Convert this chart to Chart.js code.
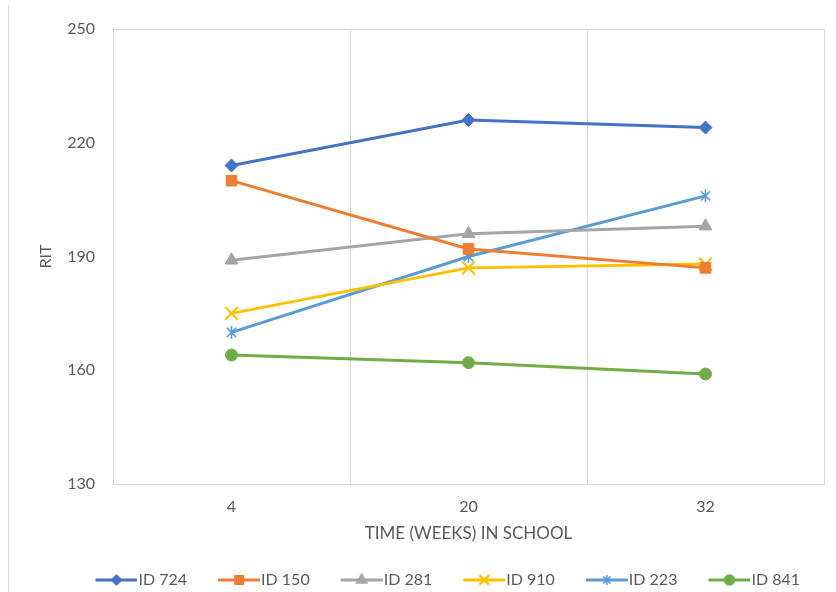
<!DOCTYPE html>
<html>
<head>
<meta charset="utf-8">
<script src="https://cdn.jsdelivr.net/npm/chart.js@4.4.0/dist/chart.umd.min.js"></script>
<style>
    html, body { margin: 0; padding: 0; background: #fff; }
    #wrap { width: 836px; height: 592px; position: relative; }
</style>
</head>
<body>
<div id="wrap"><canvas id="ritChart"></canvas></div>
<script>
// Data
const weeks = ['4', '20', '32'];
const studentIds = ['ID 724', 'ID 150', 'ID 281', 'ID 910', 'ID 223', 'ID 841'];
const rit724 = [214, 226, 224];
const rit150 = [210, 192, 187];
const rit281 = [189, 196, 198];
const rit910 = [175, 187, 188];
const rit223 = [170, 190, 206];
const rit841 = [164, 162, 159];
const ritTicks = [130, 160, 190, 220, 250];

const seriesColors = ['#4472C4', '#ED7D31', '#A5A5A5', '#FFC000', '#5B9BD5', '#70AD47'];
const textColor = '#595959';
const frameColor = '#D9D9D9';
const fontFamily = 'Lato, "Open Sans", sans-serif';

// Excel style asterisk marker (X with a vertical stroke)
function makeAsterisk(color, size) {
    const c = document.createElement('canvas');
    c.width = size;
    c.height = size;
    const g = c.getContext('2d');
    const m = size / 2;
    const r = size / 2 - 1;
    const d = r * 0.72;
    g.strokeStyle = color;
    g.lineWidth = 1.6;
    g.beginPath();
    g.moveTo(m - d, m - d); g.lineTo(m + d, m + d);
    g.moveTo(m + d, m - d); g.lineTo(m - d, m + d);
    g.moveTo(m, m - r); g.lineTo(m, m + r);
    g.stroke();
    return c;
}

// Legend icon: short line with marker; a bit wider than the legend box so the line ends next to the text
const ICON_W = 56;
const ICON_LINE = 42;
function makeLegendIcon(color, style, radius, markerLine) {
    const c = document.createElement('canvas');
    c.width = ICON_W;
    c.height = 18;
    const g = c.getContext('2d');
    g.strokeStyle = color;
    g.lineWidth = 3;
    g.beginPath();
    g.moveTo(ICON_W - ICON_LINE, 9);
    g.lineTo(ICON_W, 9);
    g.stroke();
    const mx = ICON_W - ICON_LINE / 2;
    if (typeof style === 'string') {
        g.fillStyle = color;
        g.lineWidth = markerLine;
        Chart.helpers.drawPoint(g, { pointStyle: style, radius: radius, borderWidth: markerLine, rotation: 0 }, mx, 9);
    } else {
        g.drawImage(style, mx - style.width / 2, 9 - style.height / 2);
    }
    return c;
}

const asteriskPoint = makeAsterisk(seriesColors[4], 15);
const asteriskLegend = makeAsterisk(seriesColors[4], 12);

const markerStyles = ['rectRot', 'rect', 'triangle', 'crossRot', asteriskPoint, 'circle'];
const markerRadius = [6.5, 7.5, 7.5, 9, 7, 6];
const markerBorder = [1, 1, 1, 2, 1, 1];
const legendStyles = ['rectRot', 'rect', 'triangle', 'crossRot', asteriskLegend, 'circle'];
const legendRadius = [5, 6, 6, 7, 6, 5];

const seriesValues = [rit724, rit150, rit281, rit910, rit223, rit841];
const legendIcons = seriesColors.map((col, i) => makeLegendIcon(col, legendStyles[i], legendRadius[i], markerBorder[i] + 0.5));

const datasets = studentIds.map((id, i) => ({
    label: id,
    data: seriesValues[i],
    borderColor: seriesColors[i],
    backgroundColor: seriesColors[i],
    borderWidth: 3,
    tension: 0,
    pointStyle: markerStyles[i],
    pointRadius: markerRadius[i],
    pointHoverRadius: markerRadius[i],
    pointBorderWidth: markerBorder[i],
    pointBackgroundColor: seriesColors[i],
    pointBorderColor: seriesColors[i]
}));

// thin outer frame line on the left edge of the chart object
const outerFrame = {
    id: 'outerFrame',
    beforeDraw(chart) {
        const ctx = chart.ctx;
        ctx.save();
        ctx.strokeStyle = frameColor;
        ctx.lineWidth = 1;
        ctx.beginPath();
        ctx.moveTo(8.5, 5);
        ctx.lineTo(8.5, 592);
        ctx.stroke();
        ctx.restore();
    }
};

new Chart(document.getElementById('ritChart'), {
    type: 'line',
    data: { labels: weeks, datasets: datasets },
    plugins: [outerFrame],
    options: {
        responsive: true,
        maintainAspectRatio: false,
        animation: false,
        layout: { padding: { left: 0, right: 12, top: 29, bottom: 0 } },
        plugins: {
            tooltip: { enabled: false },
            legend: {
                position: 'bottom',
                align: 'end',
                maxHeight: 44,
                labels: {
                    usePointStyle: true,
                    pointStyleWidth: ICON_W - 14,
                    padding: 24,
                    color: textColor,
                    font: { family: fontFamily, size: 16 },
                    generateLabels: chart => chart.data.datasets.map((ds, i) => ({
                        text: ds.label,
                        pointStyle: legendIcons[i],
                        fontColor: textColor,
                        fillStyle: 'transparent',
                        strokeStyle: 'transparent',
                        lineWidth: 0,
                        hidden: false,
                        datasetIndex: i
                    }))
                }
            }
        },
        scales: {
            x: {
                offset: true,
                grid: { offset: true, color: frameColor, lineWidth: 1, drawTicks: false },
                border: { color: frameColor },
                ticks: { color: textColor, font: { family: fontFamily, size: 16 }, padding: 13 },
                title: {
                    display: true,
                    text: 'TIME (WEEKS) IN SCHOOL',
                    color: textColor,
                    font: { family: fontFamily, size: 17 },
                    padding: { top: 0, bottom: 4 }
                },
                afterFit: scale => { scale.height = 64; }
            },
            y: {
                min: ritTicks[0],
                max: ritTicks[ritTicks.length - 1],
                afterBuildTicks: scale => { scale.ticks = ritTicks.map(v => ({ value: v })); },
                grid: {
                    drawTicks: false,
                    color: c => (c.tick && c.tick.value === ritTicks[ritTicks.length - 1]) ? frameColor : 'transparent'
                },
                border: { color: frameColor },
                ticks: { color: textColor, font: { family: fontFamily, size: 16 }, padding: 18 },
                title: {
                    display: true,
                    text: 'RIT',
                    color: textColor,
                    font: { family: fontFamily, size: 16 },
                    padding: { top: 36, bottom: 0 }
                },
                afterFit: scale => { scale.width = 113; }
            }
        }
    }
});
</script>
</body>
</html>
